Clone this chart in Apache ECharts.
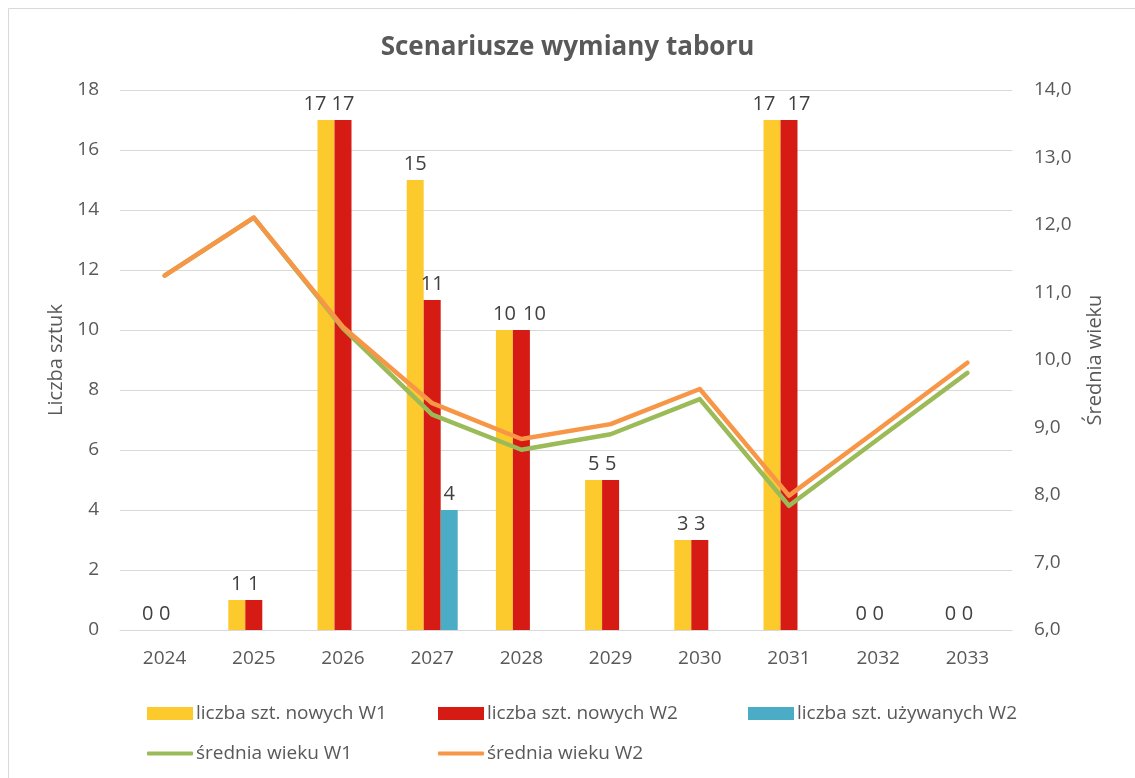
<!DOCTYPE html>
<html lang="pl">
<head>
<meta charset="utf-8">
<title>Scenariusze wymiany taboru</title>
<script src="https://cdn.jsdelivr.net/npm/echarts@6/dist/echarts.min.js"></script>
<style>
  html, body { margin: 0; padding: 0; background: #fff; }
  #chart { width: 1135px; height: 778px; }
</style>
</head>
<body>
<div id="chart"></div>
<script>
// Lata
const years = ['2024', '2025', '2026', '2027', '2028', '2029', '2030', '2031', '2032', '2033'];

// Liczba sztuk (lewa oś)
const noweW1 = [0, 1, 17, 15, 10, 5, 3, 17, 0, 0];
const noweW2 = [0, 1, 17, 11, 10, 5, 3, 17, 0, 0];
const uzywaneW2 = [null, null, null, 4, null, null, null, null, null, null];

// Średnia wieku (prawa oś)
const wiekW1 = [11.25, 12.11, 10.47, 9.19, 8.67, 8.90, 9.42, 7.84, 8.83, 9.81];
const wiekW2 = [11.25, 12.11, 10.49, 9.36, 8.83, 9.05, 9.57, 7.99, 8.97, 9.96];

const textColor = '#595959';
const labelColor = '#404040';
const font = '"Open Sans", "Noto Sans", sans-serif';

const names = {
  n1: 'liczba szt. nowych W1',
  n2: 'liczba szt. nowych W2',
  u2: 'liczba szt. używanych W2',
  w1: 'średnia wieku W1',
  w2: 'średnia wieku W2'
};

// nudge overlapping value labels apart for the tallest pairs of bars
const labelShift = {
  n1: { '2026': -11, '2031': -8 },
  n2: { '2028': 13, '2031': 10 }
};
function withShift(values, key) {
  return values.map((v, i) => {
    const dx = (labelShift[key] || {})[years[i]];
    return dx ? { value: v, label: { offset: [dx, 0] } } : v;
  });
}

const barLabel = {
  show: true,
  position: 'top',
  distance: 6,
  color: labelColor,
  fontSize: 20,
  fontFamily: font
};

function legendItem(name, left, top, icon, h) {
  return {
    data: [name],
    left: left,
    top: top,
    icon: icon,
    itemWidth: 46,
    itemHeight: h,
    itemGap: 0,
    padding: 0,
    textStyle: { color: textColor, fontSize: 19, fontFamily: font, padding: [0, 0, 0, -2] }
  };
}

const chart = echarts.init(document.getElementById('chart'), null, { renderer: 'canvas' });

chart.setOption({
  backgroundColor: '#ffffff',
  animation: false,
  textStyle: { fontFamily: font },
  title: {
    text: 'Scenariusze wymiany taboru',
    left: 'center',
    top: 30,
    textStyle: { color: textColor, fontSize: 26, fontWeight: 'bold', fontFamily: font }
  },
  graphic: [{
    type: 'rect',
    shape: { x: 8.5, y: 8.5, width: 1140, height: 790 },
    style: { fill: 'none', stroke: '#d9d9d9', lineWidth: 1 },
    silent: true,
    z: -10
  }],
  legend: [
    legendItem(names.n1, 147, 704, 'rect', 13),
    legendItem(names.n2, 438, 704, 'rect', 13),
    legendItem(names.u2, 748, 704, 'rect', 13),
    legendItem(names.w1, 147, 744, 'roundRect', 4),
    legendItem(names.w2, 438, 744, 'roundRect', 4)
  ],
  grid: { left: 120, right: 123, top: 90, bottom: 148 },
  xAxis: {
    type: 'category',
    data: years,
    axisLine: { show: true, lineStyle: { color: '#d9d9d9', width: 1 } },
    axisTick: { show: false },
    axisLabel: { color: textColor, fontSize: 19, fontFamily: font, margin: 19 }
  },
  yAxis: [
    {
      type: 'value',
      min: 0,
      max: 18,
      interval: 2,
      name: 'Liczba sztuk',
      nameLocation: 'middle',
      nameRotate: 90,
      nameGap: 47,
      nameTextStyle: { color: textColor, fontSize: 20, fontFamily: font },
      axisLine: { show: false },
      axisTick: { show: false },
      axisLabel: { color: textColor, fontSize: 19, fontFamily: font, margin: 21 },
      splitLine: { lineStyle: { color: '#d9d9d9', width: 1 } }
    },
    {
      type: 'value',
      min: 6,
      max: 14,
      interval: 1,
      name: 'Średnia wieku',
      nameLocation: 'middle',
      nameRotate: 90,
      nameGap: 73,
      nameTextStyle: { color: textColor, fontSize: 20, fontFamily: font },
      axisLine: { show: false },
      axisTick: { show: false },
      axisLabel: {
        color: textColor,
        fontSize: 19,
        fontFamily: font,
        margin: 22,
        formatter: v => v.toFixed(1).replace('.', ',')
      },
      splitLine: { show: false }
    }
  ],
  series: [
    {
      name: names.n1,
      type: 'bar',
      data: withShift(noweW1, 'n1'),
      barWidth: 17,
      barGap: '0%',
      itemStyle: { color: '#FDCA2E' },
      label: barLabel,
      z: 2
    },
    {
      name: names.n2,
      type: 'bar',
      data: withShift(noweW2, 'n2'),
      barWidth: 17,
      barGap: '0%',
      itemStyle: { color: '#D61A14' },
      label: barLabel,
      z: 2
    },
    {
      name: names.u2,
      type: 'bar',
      data: uzywaneW2,
      barWidth: 17,
      barGap: '0%',
      itemStyle: { color: '#4BACC6' },
      label: barLabel,
      z: 2
    },
    {
      name: names.w1,
      type: 'line',
      yAxisIndex: 1,
      data: wiekW1,
      symbol: 'none',
      itemStyle: { color: '#9BBB59' },
      lineStyle: { color: '#9BBB59', width: 4.5, cap: 'round', join: 'round' },
      z: 5
    },
    {
      name: names.w2,
      type: 'line',
      yAxisIndex: 1,
      data: wiekW2,
      symbol: 'none',
      itemStyle: { color: '#F79646' },
      lineStyle: { color: '#F79646', width: 4.5, cap: 'round', join: 'round' },
      z: 6
    }
  ]
});
</script>
</body>
</html>
